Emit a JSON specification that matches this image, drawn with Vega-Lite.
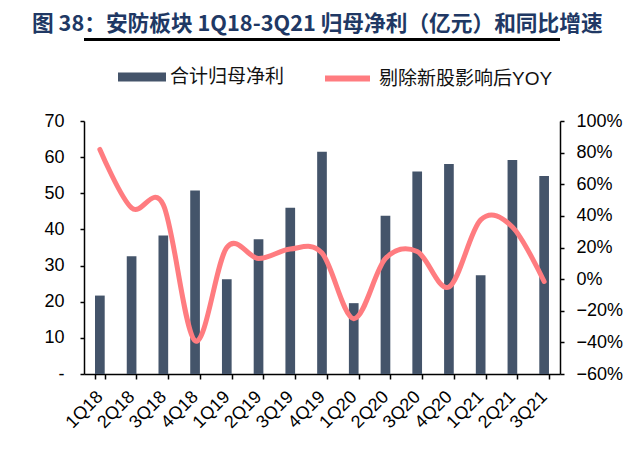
{
  "$schema": "https://vega.github.io/schema/vega-lite/v6.json",
  "autosize": {"type": "none"},
  "width": 476,
  "height": 253,
  "padding": {"left": 84, "top": 121, "right": 80, "bottom": 78},
  "background": "white",
  "title": {
    "text": "图 38：安防板块 1Q18-3Q21 归母净利（亿元）和同比增速",
    "anchor": "start",
    "frame": "group",
    "dx": -52,
    "dy": 2,
    "font": "Noto Sans CJK SC",
    "fontSize": 21.7,
    "fontWeight": "bold",
    "color": "#203864"
  },
  "data": {
    "values": [
      {"q": "1Q18", "profit": 21.7, "yoy": 0.82},
      {"q": "2Q18", "profit": 32.6, "yoy": 0.45},
      {"q": "3Q18", "profit": 38.3, "yoy": 0.47},
      {"q": "4Q18", "profit": 50.8, "yoy": -0.39},
      {"q": "1Q19", "profit": 26.2, "yoy": 0.2},
      {"q": "2Q19", "profit": 37.3, "yoy": 0.13},
      {"q": "3Q19", "profit": 46.0, "yoy": 0.19},
      {"q": "4Q19", "profit": 61.5, "yoy": 0.165},
      {"q": "1Q20", "profit": 19.6, "yoy": -0.25},
      {"q": "2Q20", "profit": 43.8, "yoy": 0.13},
      {"q": "3Q20", "profit": 56.0, "yoy": 0.175},
      {"q": "4Q20", "profit": 58.1, "yoy": -0.05},
      {"q": "1Q21", "profit": 27.3, "yoy": 0.375},
      {"q": "2Q21", "profit": 59.2, "yoy": 0.33},
      {"q": "3Q21", "profit": 54.8, "yoy": -0.015}
    ]
  },
  "layer": [
    {
      "mark": {"type": "bar"},
      "encoding": {
        "x": {
          "field": "q",
          "type": "ordinal",
          "sort": null,
          "scale": {"paddingInner": 0.695, "paddingOuter": 0.3475},
          "axis": {
            "title": null,
            "tickBand": "extent",
            "labelAngle": -45,
            "labelAlign": "right",
            "labelBaseline": "middle",
            "labelFontSize": 18,
            "labelPadding": 15,
            "tickSize": 5
          }
        },
        "y": {
          "field": "profit",
          "type": "quantitative",
          "scale": {"domain": [0, 70]},
          "axis": {
            "title": null,
            "values": [0, 10, 20, 30, 40, 50, 60, 70],
            "labelExpr": "datum.value == 0 ? '-' : datum.label",
            "labelPadding": 16,
            "labelFontSize": 18
          }
        },
        "fill": {
          "datum": "合计归母净利",
          "scale": {"range": ["#44546A"]},
          "legend": {
            "orient": "none",
            "legendX": 34,
            "legendY": -68,
            "title": null,
            "symbolType": "M-1,-0.1875H1V0.1875H-1Z",
            "symbolSize": 2304,
            "symbolStrokeWidth": 0,
            "labelFontSize": 19,
            "labelOffset": 4
          }
        }
      }
    },
    {
      "mark": {"type": "line", "interpolate": "cardinal", "tension": 0, "strokeWidth": 5, "strokeCap": "round"},
      "encoding": {
        "x": {"field": "q", "type": "ordinal", "sort": null},
        "y": {
          "field": "yoy",
          "type": "quantitative",
          "scale": {"domain": [-0.6, 1.0]},
          "axis": {
            "title": null,
            "orient": "right",
            "format": ".0%",
            "values": [-0.6, -0.4, -0.2, 0, 0.2, 0.4, 0.6, 0.8, 1.0],
            "labelPadding": 12,
            "labelFontSize": 18
          }
        },
        "stroke": {
          "datum": "剔除新股影响后YOY",
          "scale": {"range": ["#FF7C80"]},
          "legend": {
            "orient": "none",
            "legendX": 238,
            "legendY": -68,
            "title": null,
            "symbolType": "stroke",
            "symbolSize": 2025,
            "symbolStrokeWidth": 6,
            "labelFontSize": 19,
            "labelOffset": 6
          }
        }
      }
    },
    {
      "mark": {"type": "rule", "color": "black", "strokeWidth": 2.3},
      "encoding": {
        "y": {"datum": 92.6, "type": "quantitative", "scale": {"domain": [0, 70]}, "axis": null}
      }
    }
  ],
  "resolve": {"scale": {"y": "independent"}},
  "config": {
    "view": {"stroke": null},
    "font": "Liberation Sans, Noto Sans CJK SC",
    "axis": {
      "grid": false,
      "domainColor": "black",
      "domainWidth": 1.5,
      "tickColor": "black",
      "tickWidth": 1.5,
      "tickSize": 4,
      "labelColor": "black",
      "labelFont": "Liberation Sans"
    },
    "legend": {
      "labelFont": "Liberation Sans, Noto Sans CJK SC",
      "labelColor": "#111111",
      "labelLimit": 400
    }
  }
}
